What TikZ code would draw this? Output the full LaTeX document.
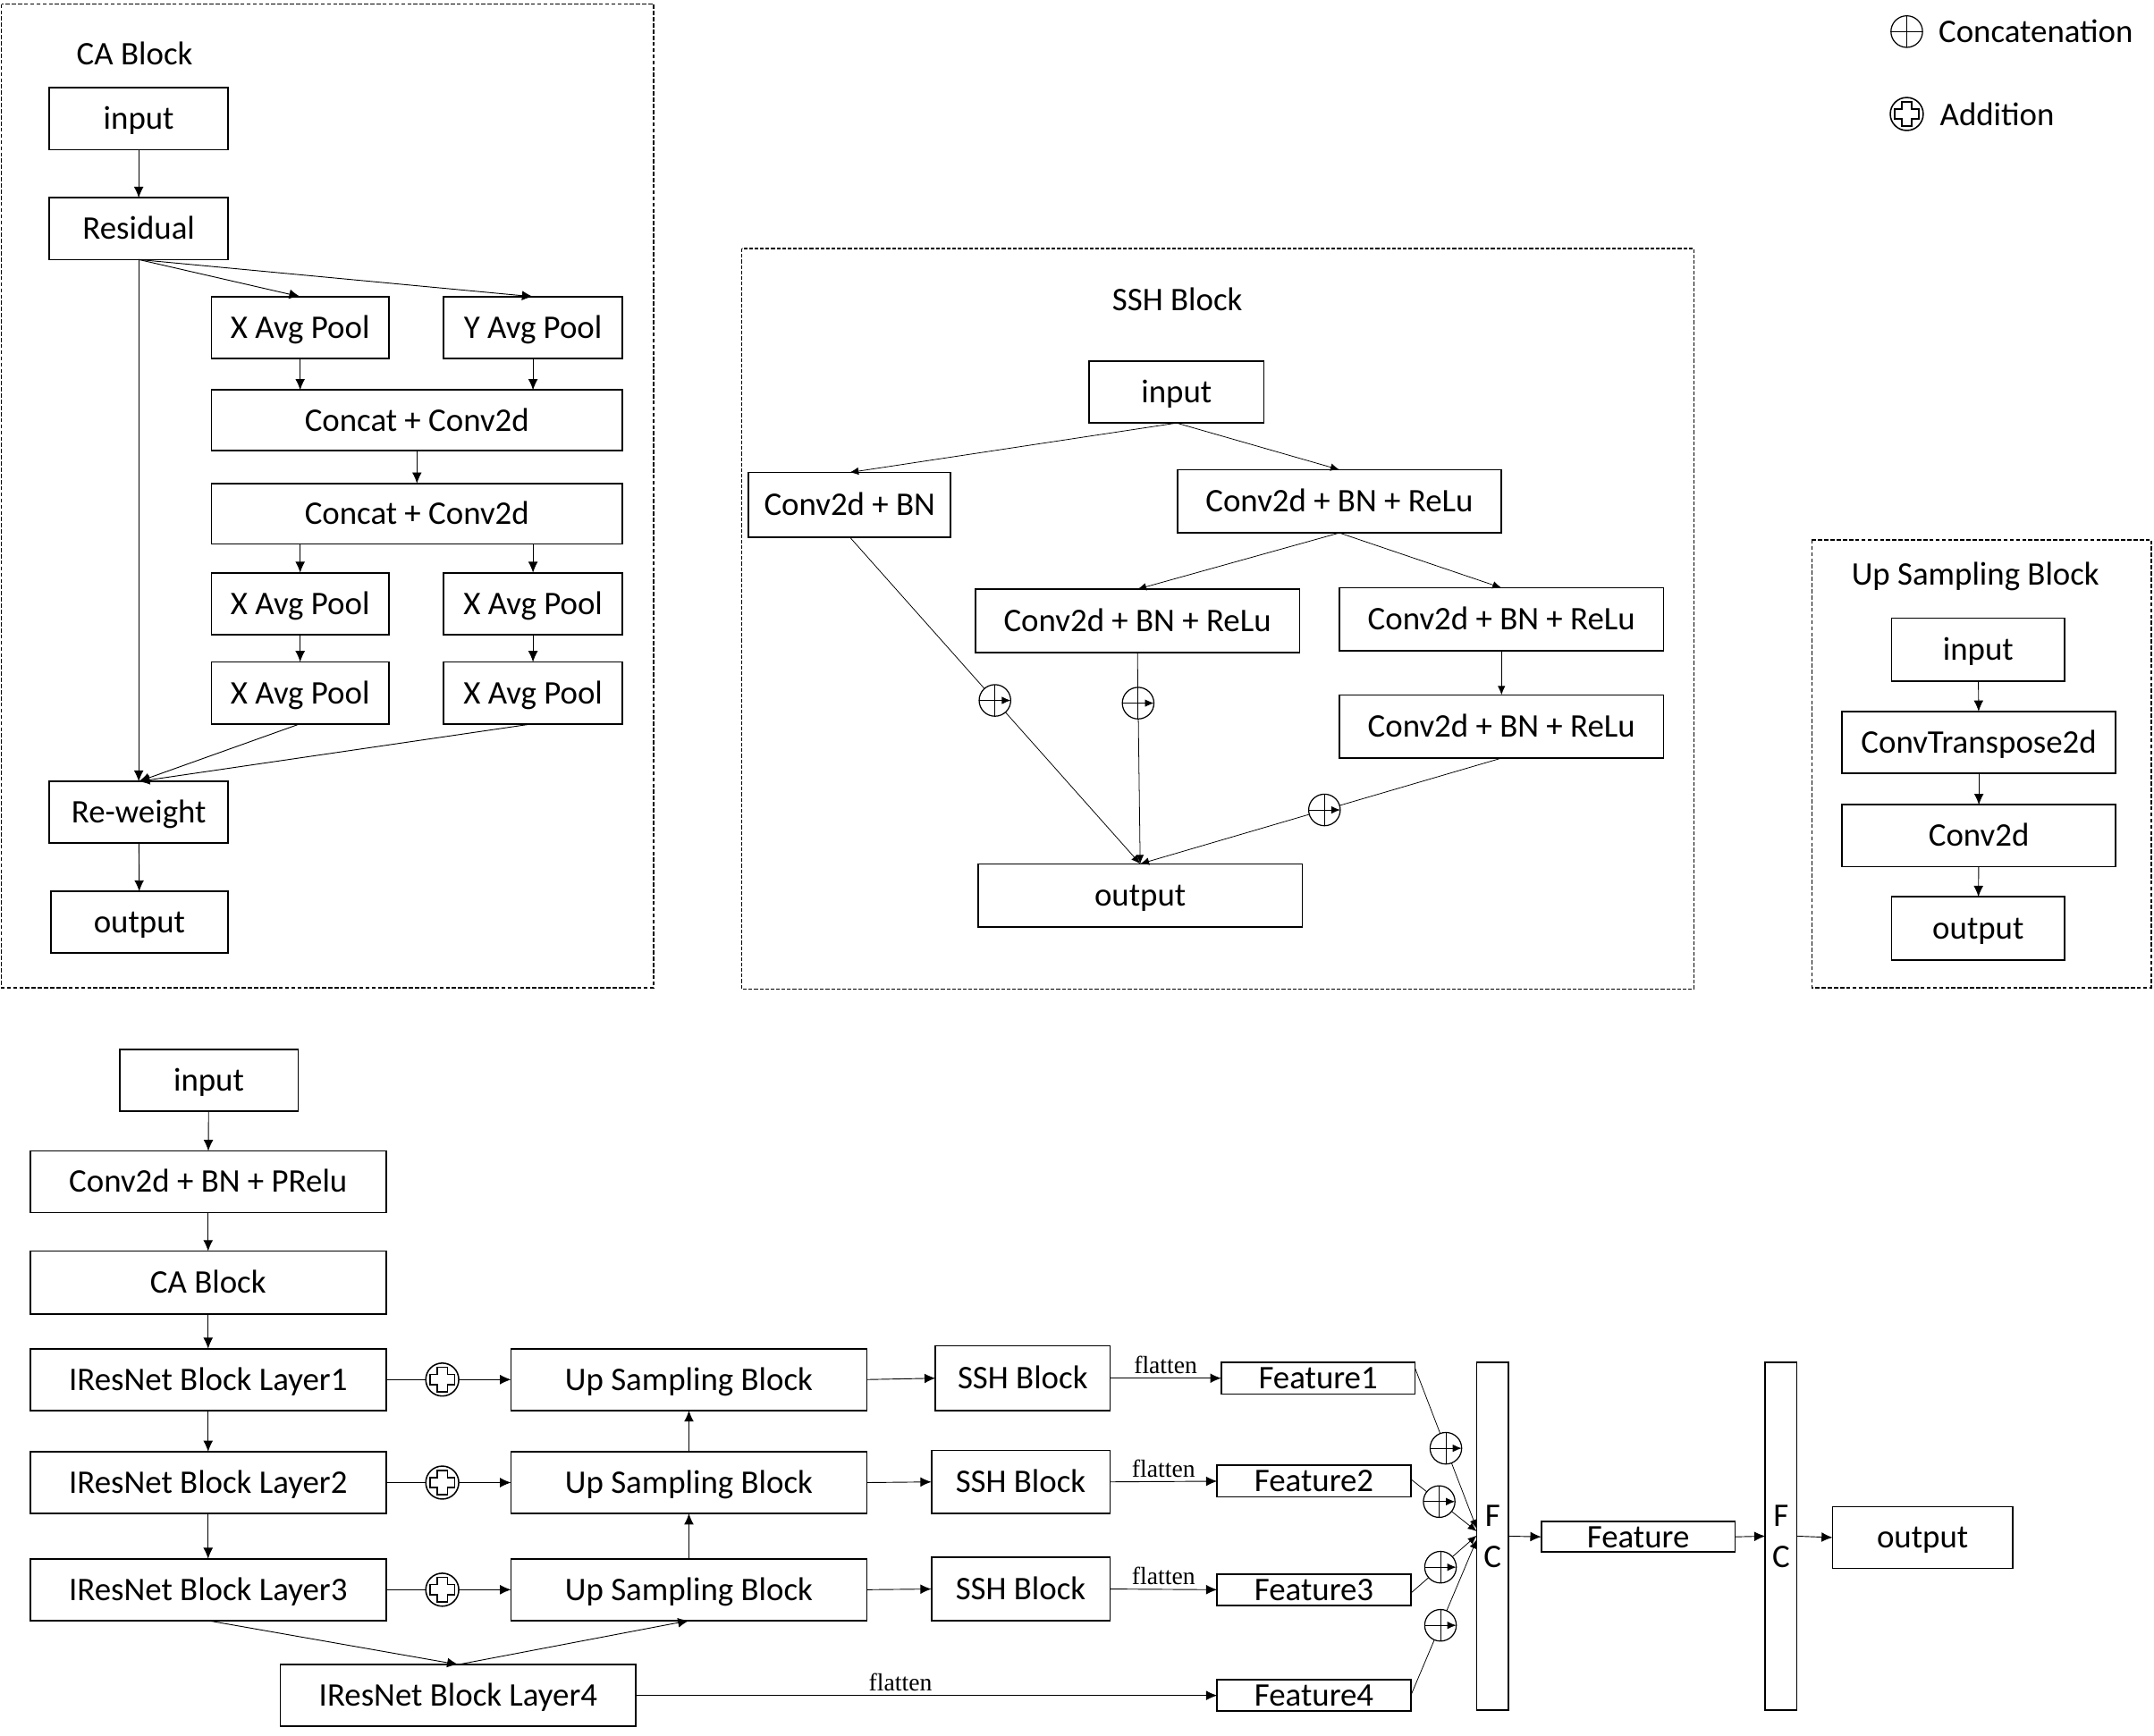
\documentclass[tikz,border=0pt]{standalone}
\usepackage{fontspec}
\setmainfont{Carlito}
\newfontfamily\serifflat{Liberation Serif}
\usetikzlibrary{arrows.meta,calc}
\tikzset{
  box/.style={draw, line width=1.1pt, inner sep=0pt, outer sep=0pt,
    font=\fontsize{24}{29}\selectfont, text height=18pt, text depth=2.5pt},
  fcbox/.style={draw, line width=1.1pt, inner sep=0pt, outer sep=0pt,
    font=\fontsize{24}{30}\selectfont, align=center,
    minimum width=23pt, minimum height=253pt},
  arr/.style={line width=0.6pt, -{Latex[length=8pt,width=7pt]}},
  arrs/.style={line width=0.5pt, -{Latex[length=6.5pt,width=5.5pt]}},
  frame/.style={draw, line width=1.1pt, dash pattern=on 3pt off 1.5pt},
  framethin/.style={draw, line width=0.8pt, dash pattern=on 2.7pt off 1.3pt},
  cat/.style={circle, draw, fill=white, minimum size=23pt, inner sep=0pt,
    line width=0.8pt,
    path picture={\draw[line width=0.6pt]
      (path picture bounding box.north) -- (path picture bounding box.south)
      (path picture bounding box.west) -- (path picture bounding box.east);}},
  add/.style={circle, draw, fill=white, minimum size=24pt, inner sep=0pt,
    line width=1pt,
    path picture={\draw[line width=1.2pt]
      ([shift={(-3.8,-9)}]path picture bounding box.center) -- ++(7.6,0) -- ++(0,5.2)
      -- ++(5.2,0) -- ++(0,7.6) -- ++(-5.2,0) -- ++(0,5.2) -- ++(-7.6,0) -- ++(0,-5.2)
      -- ++(-5.2,0) -- ++(0,-7.6) -- ++(5.2,0) -- cycle;}},
  lbl/.style={font=\fontsize{24}{29}\selectfont, inner sep=0pt},
  flat/.style={font=\serifflat\fontsize{18}{20}\selectfont, inner sep=0pt}
}
\newcommand\rbx[6]{\node[box, minimum width={(#4-#2)*1pt}, minimum height={(#5-#3)*1pt}]
  (#1) at ({(#2+#4)/2},{(#3+#5)/2}) {#6};}
\begin{document}
\begin{tikzpicture}[x=1pt,y=-1pt]
\useasboundingbox (0,0) rectangle (1568,1264);

% ---------- frames ----------
\draw[frame] (1,3) rectangle (476,719);
\draw[framethin] (540,181) rectangle (1233,720);
\draw[frame] (1319,393) rectangle (1566,719);

% ---------- legend ----------
\node[cat] (lc) at (1388,23) {};
\node[lbl, anchor=west] (lct) at (1411,23) {Concatenation};
\node[add] (la) at (1388,83) {};
\node[lbl, anchor=west] (lat) at (1412,83) {Addition};

% ---------- CA block ----------
\node[lbl] (tca) at (98,39) {CA Block};
\rbx{cain}{36}{64}{166}{109}{input}
\rbx{cares}{36}{144}{166}{189}{Residual}
\rbx{xa}{154}{216}{283}{261}{X Avg Pool}
\rbx{ya}{323}{216}{453}{261}{Y Avg Pool}
\rbx{cc1}{154}{284}{453}{328}{Concat + Conv2d}
\rbx{cc2}{154}{352}{453}{396}{Concat + Conv2d}
\rbx{xb1}{154}{417}{283}{462}{X Avg Pool}
\rbx{xb2}{323}{417}{453}{462}{X Avg Pool}
\rbx{xc1}{154}{482}{283}{527}{X Avg Pool}
\rbx{xc2}{323}{482}{453}{527}{X Avg Pool}
\rbx{carw}{36}{569}{166}{614}{Re-weight}
\rbx{caout}{37}{649}{166}{694}{output}

\draw[arr] (cain) -- (cares);
\draw[arr] (cares.south) -- (xa.north);
\draw[arr] (cares.south) -- (ya.north);
\draw[arr] (cares.south) -- (carw.north);
\draw[arr] (xa.south) -- (xa.south |- cc1.north);
\draw[arr] (ya.south) -- (ya.south |- cc1.north);
\draw[arr] (cc1) -- (cc2);
\draw[arr] (xb1.north |- cc2.south) -- (xb1.north);
\draw[arr] (xb2.north |- cc2.south) -- (xb2.north);
\draw[arr] (xb1) -- (xc1);
\draw[arr] (xb2) -- (xc2);
\draw[arr] (xc1.south) -- (carw.north);
\draw[arr] (xc2.south) -- (carw.north);
\draw[arr] (carw) -- (caout);

% ---------- SSH block ----------
\node[lbl] (tssh) at (857,218) {SSH Block};
\rbx{sin}{793}{263}{920}{308}{input}
\rbx{s1}{545}{344}{692}{391}{Conv2d + BN}
\rbx{s2}{857}{342}{1093}{388}{Conv2d + BN + ReLu}
\rbx{s3}{710}{429}{946}{475}{Conv2d + BN + ReLu}
\rbx{s4}{975}{428}{1211}{474}{Conv2d + BN + ReLu}
\rbx{s5}{975}{506}{1211}{552}{Conv2d + BN + ReLu}
\rbx{sout}{712}{629}{948}{675}{output}

\draw[arrs] (sin.south) -- (s1.north);
\draw[arrs] (sin.south) -- (s2.north);
\draw[arrs] (s2.south) -- (s3.north);
\draw[arrs] (s2.south) -- (s4.north);
\draw[arrs] (s4) -- (s5);
\draw[arrs] (s1.south) -- node[cat, pos=0.5] (sc1) {} (sout.north);
\draw[arrs] (s3.south) -- node[cat, pos=0.24] (sc2) {} (sout.north);
\draw[arrs] (s5.south) -- node[cat, pos=0.49] (sc3) {} (sout.north);

% ---------- Up sampling block ----------
\node[lbl] (tup) at (1438,420) {Up Sampling Block};
\rbx{uin}{1377}{450}{1503}{496}{input}
\rbx{uct}{1341}{518}{1540}{563}{ConvTranspose2d}
\rbx{ucv}{1341}{586}{1540}{631}{Conv2d}
\rbx{uout}{1377}{653}{1503}{699}{output}
\draw[arr] (uin) -- (uct);
\draw[arr] (uct) -- (ucv);
\draw[arr] (ucv) -- (uout);

% ---------- main network ----------
\rbx{min}{87}{764}{217}{809}{input}
\rbx{mcb}{22}{838}{281}{883}{Conv2d + BN + PRelu}
\rbx{mca}{22}{911}{281}{957}{CA Block}
\rbx{L1}{22}{982}{281}{1027}{IResNet Block Layer1}
\rbx{L2}{22}{1057}{281}{1102}{IResNet Block Layer2}
\rbx{L3}{22}{1135}{281}{1180}{IResNet Block Layer3}
\rbx{L4}{204}{1212}{463}{1257}{IResNet Block Layer4}
\rbx{u1}{372}{982}{631}{1027}{Up Sampling Block}
\rbx{u2}{372}{1057}{631}{1102}{Up Sampling Block}
\rbx{u3}{372}{1135}{631}{1180}{Up Sampling Block}
\rbx{b1}{681}{980}{808}{1027}{SSH Block}
\rbx{b2}{678}{1056}{808}{1102}{SSH Block}
\rbx{b3}{678}{1134}{808}{1180}{SSH Block}
\rbx{f1}{889}{992}{1030}{1015}{Feature1}
\rbx{f2}{886}{1067}{1027}{1090}{Feature2}
\rbx{f3}{886}{1146}{1027}{1169}{Feature3}
\rbx{f4}{886}{1223}{1027}{1246}{Feature4}
\node[fcbox] (fc1) at (1086.5,1118.5) {F\\C};
\rbx{feat}{1122}{1108}{1263}{1130}{Feature}
\node[fcbox] (fc2) at (1296.5,1118.5) {F\\C};
\rbx{mout}{1334}{1097}{1465}{1142}{output}

\draw[arr] (min) -- (mcb);
\draw[arr] (mcb) -- (mca);
\draw[arr] (mca) -- (L1);
\draw[arr] (L1) -- (L2);
\draw[arr] (L2) -- (L3);
\draw[arr] (L3.south) -- (L4.north);
\draw[arr] (L4.north) -- (u3.south);
\draw[arr] (L1.east) -- node[add, pos=0.45] (a1) {} (u1.west);
\draw[arr] (L2.east) -- node[add, pos=0.45] (a2) {} (u2.west);
\draw[arr] (L3.east) -- node[add, pos=0.45] (a3) {} (u3.west);
\draw[arr] (u3) -- (u2);
\draw[arr] (u2) -- (u1);
\draw[arr] (u1.east) -- (b1.west);
\draw[arr] (u2.east) -- (b2.west);
\draw[arr] (u3.east) -- (b3.west);
\draw[arr] (b1.east) -- node[flat, above=3pt] (fl1) {flatten} (f1.west);
\draw[arr] (b2.east) -- node[flat, above=3pt] (fl2) {flatten} (f2.west);
\draw[arr] (b3.east) -- node[flat, above=3pt] (fl3) {flatten} (f3.west);
\draw[arr] (L4.east) -- node[flat, above=3pt, pos=0.455] (fl4) {flatten} (f4.west);

\draw[arrs] ([yshift=7.5pt]f1.east) -- node[cat, pos=0.5] (fc1a) {} ([yshift=5.5pt]fc1.west);
\draw[arrs] ([yshift=1.5pt]f2.east) -- node[cat, pos=0.43] (fc1b) {} ([yshift=3.5pt]fc1.west);
\draw[arrs] ([yshift=-2.5pt]f3.east) -- node[cat, pos=0.45] (fc1c) {} ([yshift=0.5pt]fc1.west);
\draw[arrs] (f4.east) -- node[cat, pos=0.45] (fc1d) {} ([yshift=-2.5pt]fc1.west);

\draw[arr] (fc1.east) -- (feat.west);
\draw[arr] (feat.east) -- (fc2.west);
\draw[arr] (fc2.east) -- (mout.west);
\end{tikzpicture}
\end{document}
